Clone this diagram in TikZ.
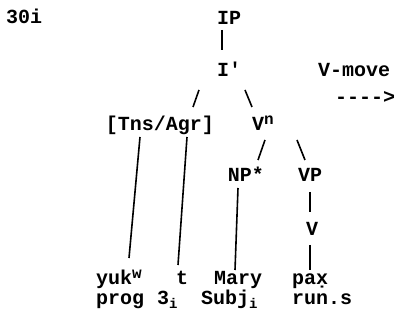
\documentclass[tikz,border=0pt]{standalone}
\usepackage{fontspec}
\setmonofont{Liberation Mono}
\usetikzlibrary{calc}
\newcommand{\raised}[1]{\raisebox{6pt}{\fontsize{16}{16}\selectfont #1}}

\begin{document}
\begin{tikzpicture}[x=1pt,y=-1pt,
    lbl/.style={font=\ttfamily\bfseries\fontsize{20}{22}\selectfont,inner sep=0pt,anchor=base},
    lblw/.style={lbl,anchor=base west},
    branch/.style={line width=1.6pt}]
    \useasboundingbox (0,0) rectangle (399,320);

    \node[lblw] (num) at (6,24) {30i};
    \node[lbl] (IP) at (229,25) {IP};
    \node[lbl] (Ibar) at (229,77) {I'};
    \node[lblw] (move) at (318,77) {V-move};
    \node[lblw] (movearrow) at (335,104) {---->};
    \node[lbl] (TnsAgr) at (160,131) {[Tns/Agr]};
    \node[lblw] (Vn) at (252,131) {V\raised{n}};
    \node[lbl] (NP) at (246,182) {NP*};
    \node[lbl] (VP) at (310,182) {VP};
    \node[lbl] (V) at (312,236) {V};

    \node[lblw] (yuk) at (96,285) {yuk\raised{w}};
    \node[lbl] (t) at (182,285) {t};
    \node[lblw] (Mary) at (214,285) {Mary};
    \node[lblw] (pax) at (292,285) {pa\d{x}};
    \node[lblw] (prog) at (96,305) {prog};
    \node[lblw] (three) at (157,305) {3\textsubscript{i}};
    \node[lblw] (subj) at (201,305) {Subj\textsubscript{i}};
    \node[lblw] (run) at (292,305) {run.s};

    \draw[branch] ($(IP.base)+(-7,5)$) -- ($(Ibar.base)+(-7,-27)$);
    \draw[branch] ($(Ibar.base)+(-30,13)$) -- ($(TnsAgr.base)+(33,-24)$);
    \draw[branch] ($(Ibar.base)+(16,13)$) -- ($(Vn.base west)+(0,-24)$);
    \draw[branch] ($(Vn.base west)+(13,9)$) -- ($(NP.base)+(12,-22)$);
    \draw[branch] ($(Vn.base west)+(45,9)$) -- ($(VP.base)+(-5,-22)$);
    \draw[branch] ($(TnsAgr.base)+(-20,6)$) -- ($(yuk.base west)+(33,-27)$);
    \draw[branch] ($(TnsAgr.base)+(27,6)$) -- ($(t.base)+(-4,-20)$);
    \draw[branch] ($(NP.base)+(-8,6)$) -- ($(Mary.base west)+(21,-15)$);
    \draw[branch] ($(VP.base)+(0,10)$) -- ($(V.base)+(-2,-24)$);
    \draw[branch] ($(V.base)+(-2,9)$) -- ($(pax.base west)+(18,-15)$);
\end{tikzpicture}
\end{document}
